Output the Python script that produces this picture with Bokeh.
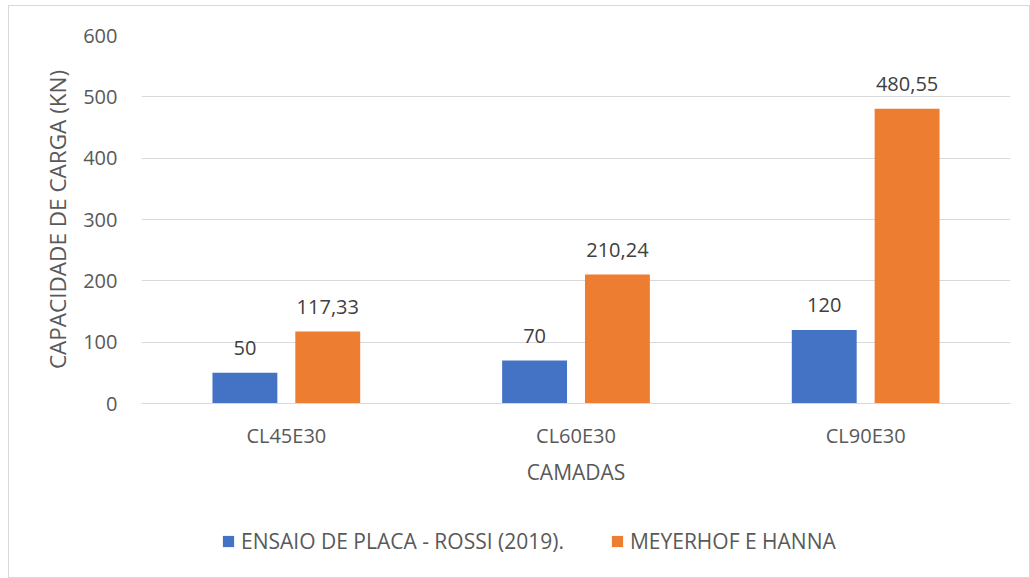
from bokeh.plotting import figure
from bokeh.models import (ColumnDataSource, FactorRange, Range1d, Legend, LegendItem,
                          SingleIntervalTicker, LabelSet)
from bokeh.layouts import column
from bokeh.transform import dodge
from bokeh.embed import file_html
from bokeh.resources import INLINE
from bokeh.core.properties import value

categories = ["CL45E30", "CL60E30", "CL90E30"]
ensaio = [50, 70, 120]
meyerhof = [117.33, 210.24, 480.55]
ensaio_labels = ["50", "70", "120"]
meyerhof_labels = ["117,33", "210,24", "480,55"]
series_names = ["ENSAIO DE PLACA - ROSSI (2019).", "MEYERHOF E HANNA"]

BLUE = "#4472C4"
ORANGE = "#ED7D31"
FONT = "Open Sans"
W = 1020

src = ColumnDataSource(dict(cat=categories, ens=ensaio, mey=meyerhof,
                            ensl=ensaio_labels, meyl=meyerhof_labels))

xr = FactorRange(*categories, range_padding=0)
p = figure(x_range=xr, y_range=Range1d(0, 600),
           width=W, height=500, output_backend="svg", toolbar_location=None,
           min_border_left=132, min_border_right=19, min_border_top=29, min_border_bottom=103)

off = 0.143
bw = 0.224
r1 = p.vbar(x=dodge("cat", -off, range=xr), top="ens", width=bw, source=src,
            fill_color=BLUE, line_color=None)
r2 = p.vbar(x=dodge("cat", off, range=xr), top="mey", width=bw, source=src,
            fill_color=ORANGE, line_color=None)

for xo, col, lab in [(-off, "ens", "ensl"), (off, "mey", "meyl")]:
    ls = LabelSet(x=dodge("cat", xo, range=xr), y=col, text=lab, source=src,
                  y_offset=18, text_align="center", text_baseline="alphabetic",
                  text_font=value(FONT), text_font_size=value("20px"), text_color="#404040")
    p.add_layout(ls)

p.outline_line_color = None
p.xgrid.grid_line_color = None
p.ygrid.grid_line_color = "#D9D9D9"
p.ygrid.grid_line_width = 1
p.yaxis.ticker = SingleIntervalTicker(interval=100)

p.yaxis.axis_line_color = None
p.yaxis.major_tick_line_color = None
p.yaxis.minor_tick_line_color = None
p.yaxis.major_label_text_font = FONT
p.yaxis.major_label_text_font_size = "20px"
p.yaxis.major_label_text_color = "#595959"
p.yaxis.major_label_standoff = 18
p.yaxis.axis_label = "CAPACIDADE DE CARGA (KN)"
p.yaxis.axis_label_text_font = FONT
p.yaxis.axis_label_text_font_size = "22.5px"
p.yaxis.axis_label_text_font_style = "normal"
p.yaxis.axis_label_text_color = "#595959"
p.yaxis.axis_label_standoff = 7

p.xaxis.axis_line_color = "#D9D9D9"
p.xaxis.axis_line_width = 1
p.xaxis.major_tick_line_color = None
p.xaxis.minor_tick_line_color = None
p.xaxis.major_label_text_font = FONT
p.xaxis.major_label_text_font_size = "20px"
p.xaxis.major_label_text_color = "#595959"
p.xaxis.major_label_standoff = 12
p.xaxis.axis_label = "CAMADAS"
p.xaxis.axis_label_text_font = FONT
p.xaxis.axis_label_text_font_size = "21px"
p.xaxis.axis_label_text_font_style = "normal"
p.xaxis.axis_label_text_color = "#595959"
p.xaxis.axis_label_standoff = 6

# legend strip below the chart (bars drawn out of its visible range)
pl = figure(width=W, height=71, output_backend="svg", toolbar_location=None,
            x_axis_type=None, y_axis_type=None, min_border=0,
            x_range=xr, y_range=Range1d(10000, 10001))
pl.outline_line_color = None
pl.grid.grid_line_color = None
l1 = pl.vbar(x=dodge("cat", -off, range=xr), top="ens", width=bw, source=src,
             fill_color=BLUE, line_color=None)
l2 = pl.vbar(x=dodge("cat", off, range=xr), top="mey", width=bw, source=src,
             fill_color=ORANGE, line_color=None)
legend = Legend(items=[LegendItem(label=series_names[0], renderers=[l1]),
                       LegendItem(label=series_names[1], renderers=[l2])],
                orientation="horizontal", location=(80, 22),
                glyph_width=14, glyph_height=14, label_standoff=6, spacing=46,
                label_height=20, padding=0, margin=0, border_line_color=None,
                background_fill_alpha=0,
                label_text_font=FONT, label_text_font_size="21px", label_text_color="#595959")
pl.add_layout(legend, "center")

layout = column(p, pl, spacing=0)
layout.styles = {"border": "1px solid #D9D9D9", "margin-left": "8px", "margin-top": "5px"}

open("out.html", "w").write(file_html(layout, INLINE))
